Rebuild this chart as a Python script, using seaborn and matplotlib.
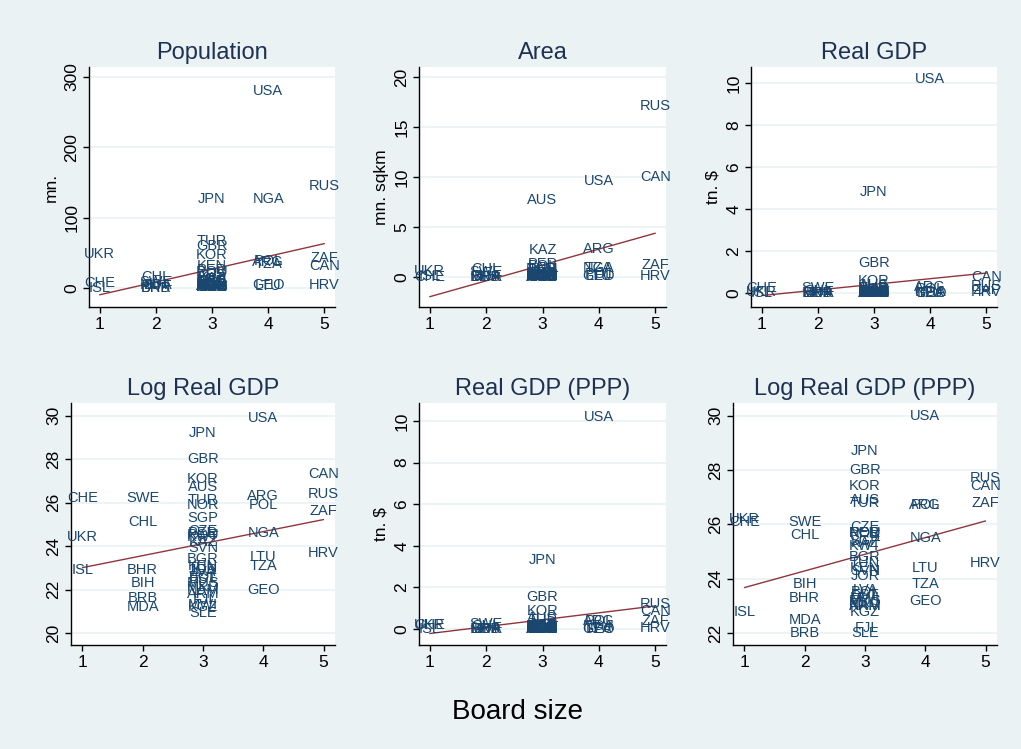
import numpy as np
import pandas as pd
import matplotlib
matplotlib.use("Agg")
import matplotlib.pyplot as plt
import seaborn as sns

# country codes and board sizes
countries = ["UKR", "CHE", "ISL",
             "CHL", "SWE", "BHR", "BIH", "BRB", "MDA",
             "JPN", "GBR", "KOR", "AUS", "TUR", "NOR", "SGP", "CZE", "PER", "ROU",
             "KWT", "KAZ", "BGR", "SVN", "KEN", "JOR", "TUN", "EST", "LVA", "BOL",
             "MKD", "NAM", "MUS", "ARM", "MWI", "KGZ", "FJI", "SLE",
             "USA", "NGA", "POL", "ARG", "TZA", "LTU", "GEO",
             "RUS", "CAN", "ZAF", "HRV"]
board = [1, 1, 1,
         2, 2, 2, 2, 2, 2,
         3, 3, 3, 3, 3, 3, 3, 3, 3, 3,
         3, 3, 3, 3, 3, 3, 3, 3, 3, 3,
         3, 3, 3, 3, 3, 3, 3, 3,
         4, 4, 4, 4, 4, 4, 4,
         5, 5, 5, 5]

# population, mn.
population = [49, 7.2, 0.3,
              15.0, 8.9, 0.7, 3.8, 0.3, 3.6,
              127, 59, 47, 19, 67, 4.5, 4.0, 10.3, 26, 22.4,
              1.9, 14.9, 8.2, 2.0, 31, 4.8, 9.6, 1.4, 2.4, 8.3,
              2.0, 1.9, 1.2, 3.1, 11.5, 4.9, 0.8, 4.1,
              280, 127, 38.3, 37, 34, 3.5, 4.7,
              145, 30.7, 43, 4.5]
# area, mn. sqkm
area = [0.60, 0.04, 0.10,
        0.76, 0.45, 0.001, 0.05, 0.0004, 0.03,
        0.38, 0.24, 0.10, 7.69, 0.78, 0.39, 0.001, 0.08, 1.29, 0.24,
        0.02, 2.72, 0.11, 0.02, 0.58, 0.09, 0.16, 0.05, 0.06, 1.10,
        0.03, 0.82, 0.002, 0.03, 0.12, 0.20, 0.02, 0.07,
        9.63, 0.92, 0.31, 2.78, 0.95, 0.07, 0.07,
        17.1, 9.98, 1.22, 0.06]
# real GDP, tn. $
real_gdp = [0.032, 0.25, 0.009,
            0.075, 0.24, 0.008, 0.005, 0.0025, 0.0014,
            4.8, 1.45, 0.55, 0.40, 0.22, 0.17, 0.093, 0.056, 0.053, 0.037,
            0.038, 0.030, 0.014, 0.020, 0.013, 0.0085, 0.020, 0.0055, 0.0078, 0.0084,
            0.0036, 0.0039, 0.0045, 0.0030, 0.0017, 0.0016, 0.0020, 0.0009,
            10.2, 0.046, 0.17, 0.28, 0.010, 0.016, 0.0034,
            0.33, 0.74, 0.13, 0.022]
# log real GDP
log_real_gdp = [24.4, 26.2, 22.9,
                25.1, 26.2, 22.9, 22.3, 21.6, 21.2,
                29.2, 28.0, 27.1, 26.7, 26.1, 25.9, 25.3, 24.7, 24.6, 24.5,
                24.4, 24.2, 23.4, 23.9, 23.1, 22.9, 23.0, 22.5, 22.8, 22.6,
                22.1, 22.0, 22.3, 21.8, 21.3, 21.2, 21.5, 20.9,
                29.9, 24.6, 25.9, 26.3, 23.1, 23.5, 22.0,
                26.4, 27.3, 25.6, 23.7]
# real GDP (PPP), tn. $
ppp_gdp = [0.20, 0.21, 0.008,
           0.13, 0.22, 0.013, 0.019, 0.004, 0.006,
           3.3, 1.55, 0.85, 0.52, 0.43, 0.16, 0.11, 0.17, 0.14, 0.14,
           0.09, 0.10, 0.05, 0.035, 0.04, 0.025, 0.06, 0.015, 0.018, 0.017,
           0.011, 0.010, 0.011, 0.008, 0.010, 0.008, 0.0045, 0.0035,
           10.2, 0.12, 0.40, 0.40, 0.022, 0.035, 0.011,
           1.2, 0.85, 0.40, 0.04]
# log real GDP (PPP)
log_ppp_gdp = [26.2, 26.1, 22.8,
               25.6, 26.1, 23.3, 23.8, 22.0, 22.5,
               28.7, 28.0, 27.4, 26.9, 26.8, 25.7, 25.4, 25.9, 25.7, 25.7,
               25.2, 25.3, 24.8, 24.3, 24.4, 24.1, 24.6, 23.4, 23.6, 23.5,
               23.1, 23.0, 23.2, 23.0, 23.3, 22.8, 22.2, 22.0,
               30.0, 25.5, 26.7, 26.7, 23.8, 24.4, 23.2,
               27.7, 27.4, 26.8, 24.6]

df = pd.DataFrame({
    "country": countries,
    "board": board,
    "population": population,
    "area": area,
    "real_gdp": real_gdp,
    "log_real_gdp": log_real_gdp,
    "ppp_gdp": ppp_gdp,
    "log_ppp_gdp": log_ppp_gdp,
})

# panel: (column, title, y label, y ticks, y limits, box in pixels left/top/right/bottom)
paneles = [
    ("population", "Population", "mn.", [0, 100, 200, 300], (-27, 314), (89, 67, 335, 307)),
    ("area", "Area", "mn. sqkm", [0, 5, 10, 15, 20], (-3.0, 21.0), (419, 67, 666, 307)),
    ("real_gdp", "Real GDP", "tn. $", [0, 2, 4, 6, 8, 10], (-0.67, 10.78), (751, 67, 997, 307)),
    ("log_real_gdp", "Log Real GDP", "", [20, 22, 24, 26, 28, 30], (19.45, 30.58), (71, 403, 335, 645)),
    ("ppp_gdp", "Real GDP (PPP)", "tn. $", [0, 2, 4, 6, 8, 10], (-0.77, 10.87), (419, 403, 666, 645)),
    ("log_ppp_gdp", "Log Real GDP (PPP)", "", [22, 24, 26, 28, 30], (21.57, 30.46), (733, 403, 997, 645)),
]

sns.set_theme(style="white")
plt.rcParams["font.family"] = ["Liberation Sans", "DejaVu Sans"]

ANCHO, ALTO = 1021, 749
FONDO = "#EAF2F3"
AZUL = "#1A476F"
TITULO = "#1E3152"
ROJO = "#90353B"

fig = plt.figure(figsize=(ANCHO / 100, ALTO / 100), dpi=100)
fig.patch.set_facecolor(FONDO)

for col, titulo, ylab, yticks, ylim, (l, t, r, b) in paneles:
    ax = fig.add_axes([l / ANCHO, 1 - b / ALTO, (r - l) / ANCHO, (b - t) / ALTO])
    ax.set_facecolor("white")

    # fitted line
    sns.regplot(data=df, x="board", y=col, scatter=False, ci=None, ax=ax,
                line_kws={"color": ROJO, "lw": 1.0})

    # marker labels only
    for _, fila in df.iterrows():
        ax.text(fila["board"], fila[col], fila["country"], ha="center", va="center",
                fontsize=10.5, color=AZUL)

    ax.set_xlim(0.81, 5.19)
    ax.set_ylim(*ylim)
    ax.set_xticks([1, 2, 3, 4, 5])
    ax.set_yticks(yticks)
    ax.set_yticklabels([str(v) for v in yticks], rotation=90, va="center")
    ax.yaxis.grid(True, color=FONDO, lw=1.2)
    ax.set_axisbelow(True)
    for lado in ["top", "right"]:
        ax.spines[lado].set_visible(False)
    for lado in ["left", "bottom"]:
        ax.spines[lado].set_color("black")
        ax.spines[lado].set_linewidth(1.0)
    ax.tick_params(axis="both", which="both", direction="out", length=4, width=1,
                   color="black", labelsize=12.5, labelcolor="black", pad=3,
                   left=True, bottom=True)
    ax.set_xlabel("")
    ax.set_ylabel(ylab, fontsize=12.5, color="black", labelpad=4)
    ax.set_title(titulo, fontsize=17, color=TITULO, pad=6)

fig.text(518 / ANCHO, 1 - 712 / ALTO, "Board size", ha="center", va="center",
         fontsize=20, color="black")

fig.savefig("out.png", dpi=100, facecolor=FONDO)
